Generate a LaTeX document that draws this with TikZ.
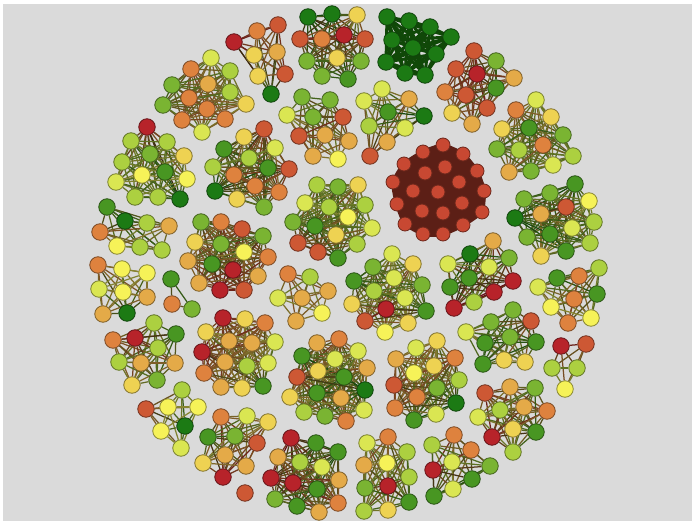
\documentclass[tikz,border=0pt]{standalone}
\usepackage{tikz}
\usetikzlibrary{backgrounds}

\definecolor{cr}{RGB}{183,35,42}
\definecolor{cv}{RGB}{205,88,52}
\definecolor{co}{RGB}{222,130,62}
\definecolor{ca}{RGB}{228,170,72}
\definecolor{cg}{RGB}{238,210,82}
\definecolor{cy}{RGB}{246,242,88}
\definecolor{cc}{RGB}{218,230,82}
\definecolor{cl}{RGB}{172,208,64}
\definecolor{cn}{RGB}{122,180,50}
\definecolor{cm}{RGB}{72,150,34}
\definecolor{cd}{RGB}{28,122,20}
\definecolor{cb}{RGB}{200,72,50}
\definecolor{blobedge}{RGB}{92,31,22}
\definecolor{pineedge}{RGB}{16,72,8}
\definecolor{canvas}{RGB}{218,218,218}

\pgfdeclarelayer{bg}
\pgfdeclarelayer{edges}
\pgfsetlayers{bg,edges,main}

% one cluster: node style, link style, name, list of x/y/colour
\newcommand{\netcluster}[4]{%
  \foreach \px/\py/\pc [count=\i] in {#4} {
    \node[vertex, fill=\pc, draw=\pc!55!black, #1] (#3-\i) at (\px,\py) {};
  }
  \begin{pgfonlayer}{edges}
  \foreach \px/\py/\pc [count=\i] in {#4} {
    \foreach \qx/\qy/\qc [count=\j] in {#4} {
      \ifnum\j>\i \draw[link, draw=\pc!50!\qc!55!black, #2] (#3-\i) -- (#3-\j); \fi
    }
  }
  \end{pgfonlayer}
}

\begin{document}
\begin{tikzpicture}[
    x=1pt, y=-1pt,
    vertex/.style={circle, minimum size=16.5pt, inner sep=0pt, line width=0.8pt},
    link/.style={line width=1.25pt},
    blob/.style={minimum size=14pt},
    bloblink/.style={draw=blobedge, line width=5pt, line cap=round},
    pinelink/.style={draw=pineedge, line width=3pt, line cap=round}
]
\useasboundingbox (0,0) rectangle (692,521);
\begin{pgfonlayer}{bg}
\fill[white] (0,0) rectangle (692,521);
\fill[canvas] (3,4) rectangle (692,521);
\end{pgfonlayer}

% top ring
\netcluster{}{}{A}{211/58/cc, 191/69/co, 230/71/cl, 172/85/cn, 208/84/ca, 230/92/cl, 189/98/co, 163/105/cn, 207/109/co, 246/104/cg, 182/120/co, 225/119/co, 202/132/cc}
\netcluster{}{}{B}{234/42/cr, 257/31/co, 278/25/cv, 254/55/cg, 277/52/ca, 258/76/cg, 285/74/cv, 271/94/cd}
\netcluster{}{}{C}{308/17/cd, 332/14/cd, 357/15/cg, 300/39/cv, 322/39/co, 344/35/cr, 365/39/cv, 337/58/cg, 307/61/cn, 361/61/cn, 322/76/cn, 348/79/cm}
\netcluster{}{pinelink}{D}{387/17/cd, 409/21/cd, 430/27/cd, 451/37/cd, 392/40/cd, 413/48/cd, 436/54/cd, 386/62/cd, 405/73/cd, 425/75/cd}
\netcluster{}{}{E}{302/97/cn, 330/100/cn, 287/115/cc, 313/117/cn, 343/117/cv, 299/136/cv, 325/135/ca, 349/141/ca, 313/156/ca, 338/159/cy}
\netcluster{}{}{F}{382/89/cc, 364/101/cc, 409/99/ca, 388/112/cm, 424/116/cd, 369/126/cl, 405/128/cc, 387/142/ca, 370/156/cv}
\netcluster{}{}{G}{474/51/cv, 496/61/cn, 456/69/cv, 477/74/cr, 514/78/ca, 445/92/co, 466/95/cv, 496/88/cm, 487/108/cv, 452/113/cg, 472/124/ca}
\netcluster{}{}{H}{536/100/cc, 516/110/co, 551/117/cg, 502/129/cg, 529/128/cm, 563/135/cn, 497/149/cn, 519/150/cl, 543/145/co, 573/156/cl, 553/165/cc, 509/172/ca, 531/171/cn}

% the dense red block
\netcluster{blob}{bloblink}{K}{443/145/cb, 423/152/cb, 463/154/cb, 404/164/cb, 425/173/cb, 445/167/cb, 477/171/cb, 393/182/cb, 413/191/cb, 438/192/cb, 459/182/cb, 484/191/cb, 397/204/cb, 422/211/cb, 443/213/cb, 462/203/cb, 482/212/cb, 405/224/cb, 423/234/cb, 443/234/cb, 463/225/cb}

% left side
\netcluster{}{}{I}{147/127/cr, 131/141/cl, 167/142/cl, 150/154/cn, 184/156/cg, 122/162/cl, 142/175/cy, 165/172/cm, 116/182/cc, 187/179/cy, 135/197/cl, 158/197/cl, 180/199/cd}
\netcluster{}{}{J}{107/207/cm, 125/221/cd, 147/223/cl, 169/226/ca, 100/232/co, 117/246/cy, 140/247/cl, 162/250/cl}
\netcluster{}{}{L}{98/265/co, 122/269/cy, 147/273/cy, 99/289/cc, 123/292/cy, 147/297/ca, 103/314/ca, 127/313/cd}
\netcluster{}{}{T}{171/279/cm, 172/304/co, 192/309/cn}
\netcluster{}{}{M}{201/222/cn, 221/222/co, 242/229/cv, 263/236/cn, 195/242/cg, 221/244/cn, 244/252/cy, 268/257/co, 188/261/ca, 212/264/cm, 233/270/cr, 258/276/ca, 199/283/ca, 220/290/cr, 244/290/cv}
\netcluster{}{}{O}{224/149/cm, 244/137/cg, 264/129/cv, 275/148/cc, 249/158/cl, 213/167/cl, 268/168/cm, 289/169/cv, 234/175/co, 255/186/co, 215/191/cd, 237/199/cg, 279/192/co, 264/207/cn}
\netcluster{}{}{CC}{154/323/cl, 176/334/cm, 113/340/co, 135/338/cr, 158/348/cl, 119/362/cl, 141/363/ca, 175/363/ca, 132/385/cg, 157/380/cn}
\netcluster{}{}{DD}{182/390/cl, 146/409/cv, 168/407/cy, 198/407/cy, 185/426/cd, 161/431/cy, 181/448/cc}
\netcluster{}{}{GG}{223/318/cr, 245/319/cg, 265/323/co, 206/332/cg, 229/341/ca, 252/343/ca, 275/342/cc, 202/352/cr, 225/362/ca, 247/366/cl, 268/363/cc, 204/373/co, 221/387/ca, 242/388/cg, 263/386/cm}

% centre
\netcluster{}{}{N}{317/185/cl, 338/187/cn, 358/185/cg, 305/203/cc, 329/207/cl, 348/217/cy, 365/205/cl, 293/222/cn, 315/226/cm, 336/235/cg, 372/228/cc, 298/243/cv, 318/252/cv, 357/244/cl, 338/258/cm}
\netcluster{}{}{P}{288/274/co, 310/277/cl, 328/291/ca, 278/298/cc, 302/298/ca, 322/313/cy, 296/321/ca}
\netcluster{}{}{Q}{392/254/cc, 373/267/cn, 413/264/cg, 354/281/cm, 394/278/cc, 422/285/cn, 374/291/cl, 405/298/cc, 352/304/cg, 386/309/cr, 426/311/cm, 365/321/cv, 408/323/cg, 385/332/cy}
\netcluster{}{}{AA}{317/343/ca, 339/339/co, 302/356/cm, 335/359/cc, 358/351/cc, 367/368/ca, 318/371/cg, 344/377/cm, 297/377/cv, 365/390/cd, 317/393/cm, 341/398/ca, 290/397/cg, 304/412/cl, 325/416/cn, 364/410/cc, 346/421/co}
\netcluster{}{}{BB}{416/348/cc, 437/341/cg, 396/359/ca, 434/366/cg, 414/373/cy, 455/358/co, 394/385/cv, 437/388/cn, 459/380/cl, 417/397/co, 456/403/cd, 395/408/co, 436/414/cc, 414/420/cm}

% right side
\netcluster{}{}{R}{575/184/cm, 550/193/cn, 524/199/cn, 589/201/cy, 566/207/cv, 541/214/ca, 515/218/cd, 594/222/cl, 572/228/cc, 527/237/cn, 550/234/cm, 590/243/cl, 566/251/cm, 541/256/cg}
\netcluster{}{}{S}{493/241/ca, 470/254/cd, 509/258/cn, 448/264/cc, 489/267/cc, 469/278/cm, 513/281/cr, 450/287/cm, 494/292/cr, 474/302/cl, 454/308/cr}
\netcluster{}{}{U}{599/268/cl, 557/278/cm, 579/276/co, 538/287/cc, 597/294/cm, 574/299/co, 551/307/cy, 591/318/cy, 568/323/co}
\netcluster{}{}{V}{513/310/cn, 491/322/cn, 531/321/cv, 466/332/cc, 485/343/cm, 510/337/cn, 536/342/cm, 483/364/cm, 504/360/cg, 525/362/cg}
\netcluster{}{}{W}{561/346/cr, 586/344/cv, 552/368/cl, 577/368/cl, 565/389/cy}
\netcluster{}{}{X}{485/393/cv, 510/387/ca, 535/388/cn, 478/417/cc, 500/410/cl, 524/407/ca, 547/411/co, 492/437/cr, 513/429/cg, 536/432/cm, 513/452/cl}

% bottom ring
\netcluster{}{}{Y}{454/435/co, 432/445/cl, 471/450/co, 452/462/cc, 490/466/cn, 433/470/cr, 472/479/cm, 453/489/cc, 434/496/cm}
\netcluster{}{}{Z}{367/443/cc, 388/437/co, 407/452/cl, 364/465/ca, 387/463/cy, 409/477/cl, 365/488/cn, 388/486/cr, 409/502/cm, 364/511/cl, 388/510/cg}
\netcluster{}{}{RG}{291/438/cr, 316/443/cm, 338/452/cm, 278/457/ca, 300/462/cl, 322/467/cc, 271/478/cr, 293/483/cr, 317/489/cm, 339/480/ca, 275/499/cn, 297/506/cm, 319/512/ca, 338/503/co}
\netcluster{}{}{EE}{221/417/co, 247/416/cc, 268/422/cg, 208/437/cm, 235/436/cn, 257/443/cv, 225/455/ca, 203/463/cg, 246/466/ca, 223/477/cr}
\netcluster{}{}{solo}{245/493/cv}

\end{tikzpicture}
\end{document}
